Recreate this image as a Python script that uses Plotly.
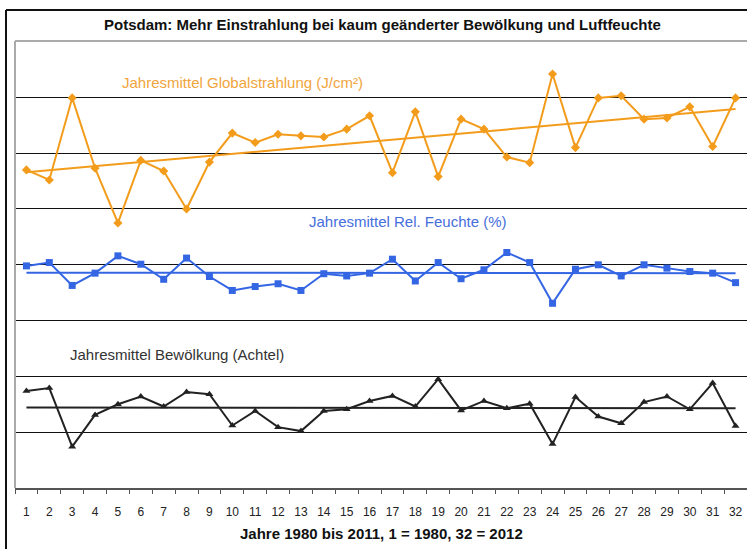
import numpy as np
import plotly.graph_objects as go

# Jahre 1..32 (1 = 1980, 32 = 2012)
years = list(range(1, 33))

# Werte in Diagrammeinheiten (keine y-Achse im Original)
globalstrahlung = [5.70, 5.52, 6.99, 5.73, 4.75, 5.87, 5.68, 5.00, 5.84, 6.36,
                   6.19, 6.34, 6.31, 6.29, 6.43, 6.67, 5.65, 6.74, 5.58, 6.61,
                   6.43, 5.93, 5.83, 7.42, 6.10, 6.99, 7.03, 6.61, 6.63, 6.83,
                   6.12, 6.99]
feuchte = [3.98, 4.04, 3.63, 3.85, 4.16, 4.01, 3.74, 4.12, 3.79, 3.54,
           3.61, 3.66, 3.54, 3.84, 3.80, 3.85, 4.10, 3.71, 4.04, 3.75,
           3.91, 4.22, 4.04, 3.31, 3.92, 4.00, 3.80, 4.00, 3.94, 3.88,
           3.85, 3.68]
bewoelkung = [1.74, 1.79, 0.74, 1.31, 1.50, 1.64, 1.46, 1.72, 1.68, 1.12,
              1.38, 1.09, 1.02, 1.38, 1.41, 1.56, 1.65, 1.46, 1.95, 1.39,
              1.56, 1.43, 1.51, 0.79, 1.63, 1.28, 1.16, 1.54, 1.64, 1.41,
              1.88, 1.11]

ORANGE = "rgb(243, 156, 28)"
ORANGE_TXT = "rgb(240, 165, 60)"
BLUE = "rgb(52, 102, 228)"
BLUE_TXT = "rgb(70, 110, 220)"
DARK = "rgb(34, 34, 34)"

FONT = "Liberation Sans, Arial, sans-serif"

x = np.array(years, dtype=float)


def trend(vals):
    k, d = np.polyfit(x, np.array(vals), 1)
    return k * x + d


fig = go.Figure()

series = [
    (globalstrahlung, ORANGE, "diamond", 7),
    (feuchte, BLUE, "square", 7),
    (bewoelkung, DARK, "triangle-up", 7),
]
for vals, col, sym, size in series:
    # linearer Trend
    fig.add_trace(go.Scatter(
        x=years, y=trend(vals), mode="lines",
        line=dict(color=col, width=2), hoverinfo="skip", showlegend=False,
    ))
    fig.add_trace(go.Scatter(
        x=years, y=vals, mode="lines+markers",
        line=dict(color=col, width=2),
        marker=dict(symbol=sym, size=size, color=col),
        showlegend=False,
    ))

# Reihenbeschriftungen im Plotbereich
fig.add_annotation(x=5.09, y=7.27, text="Jahresmittel Globalstrahlung (J/cm²)",
                   xanchor="left", yanchor="middle", showarrow=False,
                   font=dict(family=FONT, size=15, color=ORANGE_TXT))
fig.add_annotation(x=17.68, y=4.77, text="Jahresmittel Rel. Feuchte (%)",
                   xanchor="center", yanchor="middle", showarrow=False,
                   font=dict(family=FONT, size=15, color=BLUE_TXT))
fig.add_annotation(x=2.82, y=2.40, text="Jahresmittel Bewölkung (Achtel)",
                   xanchor="left", yanchor="middle", showarrow=False,
                   font=dict(family=FONT, size=15, color="#333"))

fig.add_annotation(xref="paper", yref="paper", x=0.502, y=1.0694 - 0.033,
                   text="<b>Potsdam: Mehr Einstrahlung bei kaum geänderter Bewölkung und Luftfeuchte</b>",
                   xanchor="center", yanchor="middle", showarrow=False,
                   font=dict(family=FONT, size=15, color="#111"))
fig.add_annotation(xref="paper", yref="paper", x=0.5, y=-0.101,
                   text="<b>Jahre 1980 bis 2011, 1 = 1980, 32 = 2012</b>",
                   xanchor="center", yanchor="middle", showarrow=False,
                   font=dict(family=FONT, size=15, color="#111"))

# Rahmen: äußerer Rahmen (schwarz) und Plotbereich (grau)
fig.add_shape(type="line", xref="paper", yref="paper",
              x0=-0.0123, x1=-0.0123, y0=-0.2, y1=1.0694,
              line=dict(color="#111", width=2))
fig.add_shape(type="line", xref="paper", yref="paper",
              x0=-0.0123, x1=1.02, y0=1.0694, y1=1.0694,
              line=dict(color="#111", width=2))
fig.add_shape(type="line", xref="paper", yref="paper",
              x0=0, x1=0, y0=0, y1=1.0,
              line=dict(color="#aaaaaa", width=2))
fig.add_shape(type="line", xref="paper", yref="paper",
              x0=0, x1=1.02, y0=1.0, y1=1.0,
              line=dict(color="#aaaaaa", width=2))

fig.update_layout(
    width=747, height=549,
    margin=dict(l=15, r=0, t=41, b=61),
    paper_bgcolor="white", plot_bgcolor="white",
    font=dict(family=FONT, size=12, color="#222"),
    xaxis=dict(
        range=[0.5, 32.5], tickmode="array", tickvals=years,
        ticktext=[str(v) for v in years], ticks="",
        showgrid=False, zeroline=False,
        showline=True, linecolor="#555", linewidth=1.5,
        ticklabelstandoff=12,
        tickfont=dict(family=FONT, size=12, color="#222"),
        minor=dict(ticks="outside", tick0=0.5, dtick=1, ticklen=4,
                   tickcolor="#555", tickwidth=1, showgrid=False),
    ),
    yaxis=dict(
        range=[0, 8.01], tickmode="array", tickvals=[1, 2, 3, 4, 5, 6, 7],
        showticklabels=False, ticks="",
        showgrid=True, gridcolor="#111", gridwidth=1, zeroline=False,
    ),
    showlegend=False,
)

fig.write_html(
    "out.html",
    config={"displayModeBar": False},
    post_script="document.body.style.margin='0';document.body.style.overflow='hidden';",
)
